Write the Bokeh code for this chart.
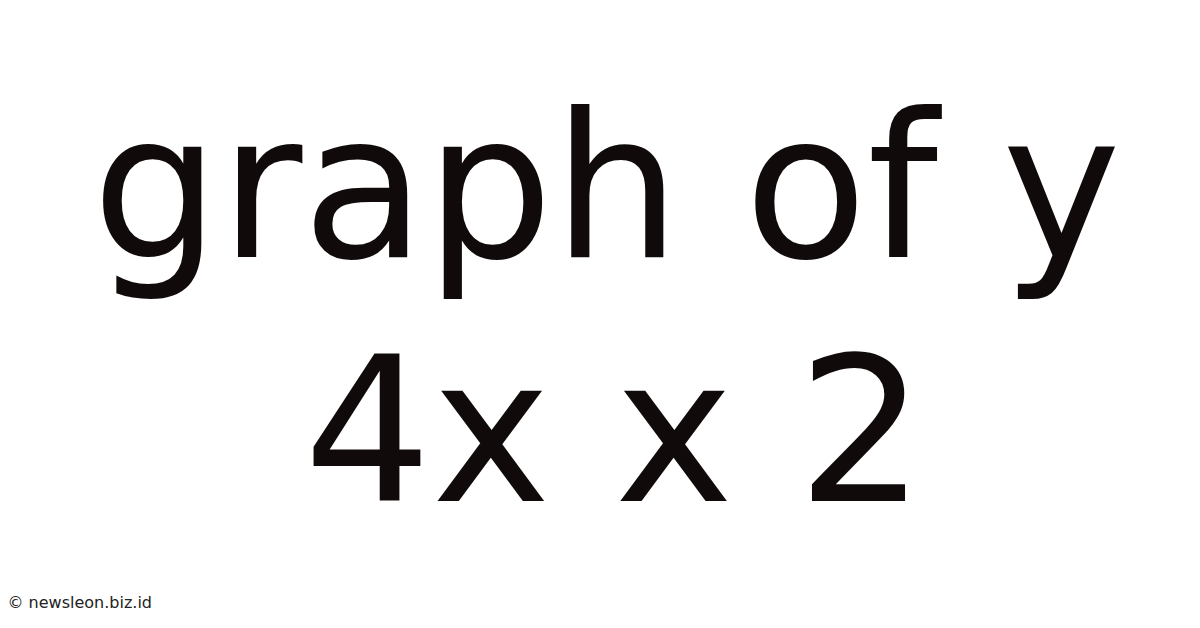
from bokeh.plotting import figure
from bokeh.models import Range1d
from bokeh.core.properties import value
from bokeh.embed import file_html
from bokeh.resources import INLINE

# Texts in the picture
title_lines = ["graph of y", "4x x 2"]
credit = ["© newsleon.biz.id"]

W, H = 1184, 612
p = figure(width=W, height=H, output_backend="svg", toolbar_location=None,
           x_range=Range1d(0, W), y_range=Range1d(H, 0),
           min_border=0, outline_line_color=None)
p.axis.visible = False
p.grid.visible = False
p.background_fill_color = "white"
p.border_fill_color = "white"

p.text(x=[606, 614], y=[186, 430], text=title_lines,
       text_font=value("DejaVu Sans"), text_font_size="201px",
       text_font_style="normal",
       text_align="center", text_baseline="alphabetic",
       text_color="#110a0a")

p.text(x=[7], y=[602], text=credit,
       text_font=value("DejaVu Sans"), text_font_size="16px",
       text_align="left", text_baseline="alphabetic",
       text_color="#222222")

open("out.html", "w").write(file_html(p, INLINE))
